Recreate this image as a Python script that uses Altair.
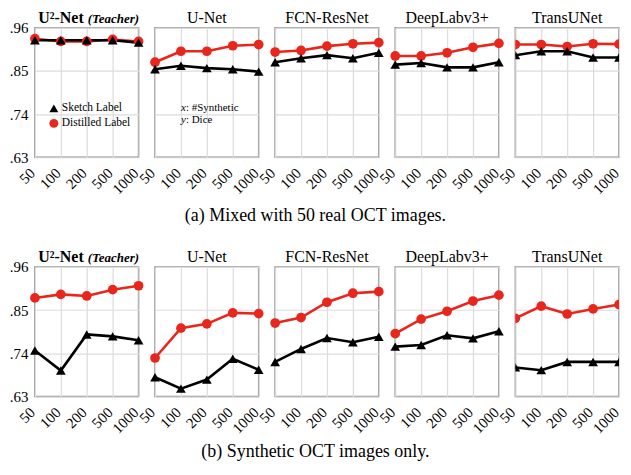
import altair as alt
import pandas as pd

ns = ["50", "100", "200", "500", "1000"]
series_names = ["Sketch Label", "Distilled Label"]

# (a) Mixed with 50 real OCT images
a_unet2_sketch = [0.928, 0.928, 0.928, 0.928, 0.922]
a_unet2_distilled = [0.932, 0.925, 0.925, 0.930, 0.925]
a_unet_sketch = [0.854, 0.863, 0.857, 0.854, 0.848]
a_unet_distilled = [0.872, 0.900, 0.900, 0.914, 0.917]
a_fcn_sketch = [0.872, 0.882, 0.890, 0.882, 0.896]
a_fcn_distilled = [0.898, 0.902, 0.913, 0.919, 0.922]
a_deeplab_sketch = [0.866, 0.870, 0.859, 0.859, 0.872]
a_deeplab_distilled = [0.888, 0.888, 0.896, 0.910, 0.920]
a_trans_sketch = [0.890, 0.900, 0.900, 0.884, 0.884]
a_trans_distilled = [0.917, 0.917, 0.912, 0.919, 0.918]

# (b) Synthetic OCT images only
b_unet2_sketch = [0.747, 0.696, 0.788, 0.783, 0.773]
b_unet2_distilled = [0.881, 0.890, 0.886, 0.902, 0.912]
b_unet_sketch = [0.679, 0.650, 0.673, 0.726, 0.698]
b_unet_distilled = [0.728, 0.804, 0.815, 0.843, 0.841]
b_fcn_sketch = [0.718, 0.751, 0.779, 0.768, 0.782]
b_fcn_distilled = [0.817, 0.831, 0.870, 0.893, 0.897]
b_deeplab_sketch = [0.757, 0.761, 0.786, 0.778, 0.796]
b_deeplab_distilled = [0.790, 0.827, 0.847, 0.873, 0.888]
b_trans_sketch = [0.704, 0.697, 0.718, 0.718, 0.718]
b_trans_distilled = [0.829, 0.860, 0.840, 0.853, 0.864]

y_ticks = [0.63, 0.74, 0.85, 0.96]
titles = ["U²-Net", "U-Net", "FCN-ResNet", "DeepLabv3+", "TransUNet"]
caption_a = "(a) Mixed with 50 real OCT images."
caption_b = "(b) Synthetic OCT images only."

SERIF = "Liberation Serif"
RED = "#e8261c"
W, H = 104, 130


def one(text):
    return alt.Chart(pd.DataFrame({"t": [text]}))


def build_panel(sketch, distilled, title, first, legend=False, note=False, clip=False):
    df = pd.DataFrame({
        "n": ns * 2,
        "series": ["Distilled Label"] * 5 + ["Sketch Label"] * 5,
        "value": distilled + sketch,
    })
    color = alt.Color("series:N", scale=alt.Scale(domain=series_names, range=["black", RED]),
                      legend=None)
    shape = alt.Shape("series:N", scale=alt.Scale(domain=series_names, range=["triangle-up", "circle"]),
                      legend=None)
    x = alt.X("n:O", sort=ns, scale=alt.Scale(type="point", padding=0),
              axis=alt.Axis(title=None, labelAngle=-45, labelAlign="right", labelBaseline="middle",
                            labelOffset=-3, labelPadding=13,
                            labelFont=SERIF, labelFontSize=15, labelColor="black",
                            grid=True, gridColor="#dcdcdc", gridWidth=1.2,
                            ticks=False, domain=False))
    y = alt.Y("value:Q", scale=alt.Scale(domain=[0.63, 0.96], nice=False, zero=False),
              axis=alt.Axis(title=None, values=y_ticks, labels=first,
                            labelExpr="substring(format(datum.value, '.2f'), 1)",
                            labelFont=SERIF, labelFontSize=15, labelColor="black",
                            grid=True, gridColor="#dcdcdc", gridWidth=1.2,
                            ticks=False, domain=False, labelPadding=7))
    base = alt.Chart(df)
    layers = [
        base.mark_line(strokeWidth=2.6, clip=clip).encode(x=x, y=y, color=color, detail="series:N"),
        base.mark_point(filled=True, size=95, opacity=1, clip=clip).encode(
            x=x, y=y, color=color, shape=shape),
    ]
    if first:
        layers.append(one(title).mark_text(
            align="right", baseline="alphabetic", font=SERIF, fontSize=16, fontWeight="bold",
            color="black").encode(x=alt.value(49), y=alt.value(-5), text="t:N"))
        layers.append(one("(Teacher)").mark_text(
            align="left", baseline="alphabetic", font=SERIF, fontSize=13, fontWeight="bold",
            fontStyle="italic", color="black").encode(x=alt.value(53), y=alt.value(-5), text="t:N"))
    if legend:
        for name, shp, col, yy in [("Sketch Label", "triangle-up", "black", 81),
                                   ("Distilled Label", "circle", RED, 96)]:
            layers.append(one(name).mark_point(shape=shp, filled=True, color=col, size=80, opacity=1)
                          .encode(x=alt.value(19), y=alt.value(yy)))
            layers.append(one(name).mark_text(align="left", font=SERIF, fontSize=11.5, color="black")
                          .encode(x=alt.value(27), y=alt.value(yy), text="t:N"))
    if note:
        for lbl, rest, yy in [("x", ": #Synthetic", 80.5), ("y", ": Dice", 92.5)]:
            layers.append(one(lbl).mark_text(align="left", font=SERIF, fontSize=11, fontStyle="italic",
                                              color="black").encode(x=alt.value(26), y=alt.value(yy), text="t:N"))
            layers.append(one(rest).mark_text(align="left", font=SERIF, fontSize=11, color="black")
                          .encode(x=alt.value(31), y=alt.value(yy), text="t:N"))
    ch = alt.layer(*layers).properties(width=W, height=H)
    if not first:
        ch = ch.properties(title=alt.TitleParams(title, font=SERIF, fontSize=16, fontWeight="normal",
                                                 color="black", offset=2))
    return ch


def row(data, caption, cap_offset, top):
    panels = []
    for i, (sk, di) in enumerate(data):
        panels.append(build_panel(sk, di, titles[i], i == 0, legend=(top and i == 0),
                                  note=(top and i == 1), clip=(i == 4)))
    return alt.hconcat(*panels, spacing=16.5, bounds="flush",
                       title=alt.TitleParams(caption, orient="bottom", anchor="middle", font=SERIF,
                                             fontSize=18, fontWeight="normal", color="black",
                                             offset=cap_offset))


row_a = row([(a_unet2_sketch, a_unet2_distilled), (a_unet_sketch, a_unet_distilled),
             (a_fcn_sketch, a_fcn_distilled), (a_deeplab_sketch, a_deeplab_distilled),
             (a_trans_sketch, a_trans_distilled)], caption_a, 9, True)
row_b = row([(b_unet2_sketch, b_unet2_distilled), (b_unet_sketch, b_unet_distilled),
             (b_fcn_sketch, b_fcn_distilled), (b_deeplab_sketch, b_deeplab_distilled),
             (b_trans_sketch, b_trans_distilled)], caption_b, 6, False)

chart = alt.vconcat(row_a, row_b, spacing=23).properties(
    padding={"left": 0, "top": 0, "right": 0, "bottom": 0}
).configure(font=SERIF).configure_view(stroke="#8c8c8c", strokeWidth=1.5).configure_axis(
    labelFont=SERIF).configure_text(font=SERIF)

chart.save("out.html", embed_options={"renderer": "svg", "actions": False})
